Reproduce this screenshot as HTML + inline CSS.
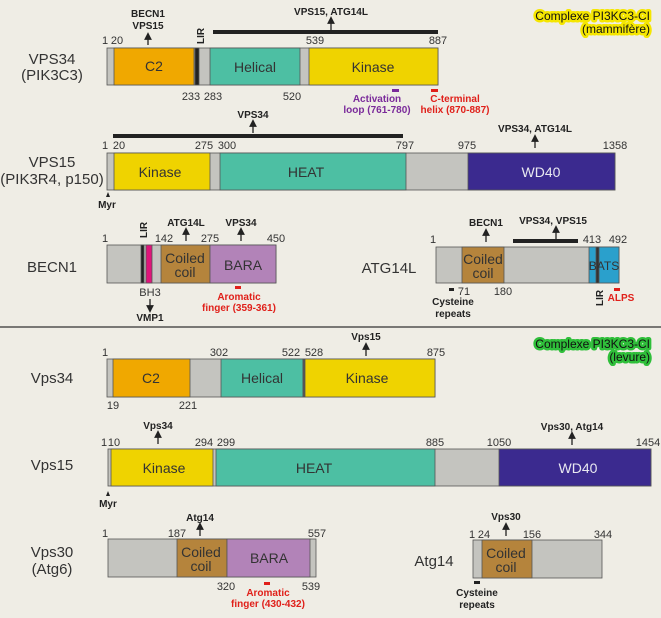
<!DOCTYPE html>
<html><head><meta charset="utf-8"><style>
html,body{margin:0;padding:0;background:#efede5}
svg{display:block}
text{font-family:"Liberation Sans Narrow","Liberation Sans",sans-serif}
.n{font-size:11px;fill:#333;text-anchor:middle}
.b{font-size:10px;font-weight:bold;fill:#222;text-anchor:middle}
.r{font-size:10px;font-weight:bold;fill:#e0201a;text-anchor:middle}
.p{font-size:10px;font-weight:bold;fill:#7a2a9a;text-anchor:middle}
.L{font-family:"Liberation Sans",sans-serif;font-size:15px;fill:#333;text-anchor:middle}
.dw{font-family:"Liberation Sans",sans-serif;font-size:14px;fill:#e8e8f0;text-anchor:middle}
.dk{font-family:"Liberation Sans",sans-serif;font-size:14px;fill:#333;text-anchor:middle}
.t{font-family:"Liberation Sans",sans-serif;font-size:12px;text-anchor:end;fill:#111;stroke-width:5px;paint-order:stroke;stroke-linejoin:round}
rect{stroke:#555;stroke-width:0.8}
</style></head><body>
<svg width="661" height="618" viewBox="0 0 661 618" xmlns="http://www.w3.org/2000/svg">
<defs><marker id="a" markerWidth="6" markerHeight="6" refX="3" refY="3" orient="auto"><path d="M0,0 L6,3 L0,6 Z" fill="#222"/></marker></defs>
<rect x="0" y="0" width="661" height="618" fill="#efede5" style="stroke:none"/>
<line x1="0" y1="327" x2="661" y2="327" stroke="#333" stroke-width="1.2"/>

<!-- titles -->
<text class="t" x="650" y="20" stroke="#f5e600">Complexe PI3KC3-CI</text>
<text class="t" x="650" y="33" stroke="#f5e600">(mammifère)</text>
<text class="t" x="650" y="348" stroke="#2fbf3a">Complexe PI3KC3-CI</text>
<text class="t" x="650" y="361" stroke="#2fbf3a">(levure)</text>

<!-- VPS34 -->
<text class="L" x="52" y="64">VPS34</text><text class="L" x="52" y="80">(PIK3C3)</text>
<rect x="107" y="48" width="331" height="37" fill="#c4c4bf"/>
<rect x="114" y="48" width="80" height="37" fill="#f0a800"/>
<rect x="195" y="48" width="4" height="37" fill="#222"/>
<rect x="210" y="48" width="90" height="37" fill="#4dbfa3"/>
<rect x="309" y="48" width="129" height="37" fill="#efd300"/>
<text class="dk" x="154" y="71">C2</text><text class="dk" x="255" y="72">Helical</text><text class="dk" x="373" y="72">Kinase</text>
<text class="n" x="105" y="44">1</text><text class="n" x="117" y="44">20</text><text class="n" x="315" y="44">539</text><text class="n" x="438" y="44">887</text>
<text class="n" x="191" y="100">233</text><text class="n" x="213" y="100">283</text><text class="n" x="292" y="100">520</text>
<line x1="213" y1="32" x2="438" y2="32" stroke="#222" stroke-width="4"/>
<line x1="331" y1="30" x2="331" y2="20" stroke="#222" stroke-width="1.3" marker-end="url(#a)"/>
<text class="b" x="331" y="15">VPS15, ATG14L</text>
<text class="b" x="148" y="17">BECN1</text><text class="b" x="148" y="29">VPS15</text>
<line x1="148" y1="45" x2="148" y2="36" stroke="#222" stroke-width="1.3" marker-end="url(#a)"/>
<text class="b" transform="translate(204,44) rotate(-90)" style="text-anchor:start">LIR</text>
<rect x="392" y="89" width="7" height="3" fill="#7a2a9a" style="stroke:none"/>
<text class="p" x="377" y="102">Activation</text><text class="p" x="377" y="113">loop (761-780)</text>
<rect x="431" y="89" width="7" height="3" fill="#e0201a" style="stroke:none"/>
<text class="r" x="455" y="102">C-terminal</text><text class="r" x="455" y="113">helix (870-887)</text>

<!-- VPS15 -->
<text class="L" x="52" y="167">VPS15</text><text class="L" x="52" y="184">(PIK3R4, p150)</text>
<rect x="107" y="153" width="508" height="37" fill="#c4c4bf"/>
<rect x="114" y="153" width="96" height="37" fill="#efd300"/>
<rect x="220" y="153" width="186" height="37" fill="#4dbfa3"/>
<rect x="468" y="153" width="147" height="37" fill="#3b2a8f"/>
<text class="dk" x="160" y="177">Kinase</text><text class="dk" x="306" y="177">HEAT</text><text class="dw" x="541" y="177">WD40</text>
<text class="n" x="105" y="149">1</text><text class="n" x="119" y="149">20</text><text class="n" x="204" y="149">275</text><text class="n" x="227" y="149">300</text><text class="n" x="405" y="149">797</text><text class="n" x="467" y="149">975</text><text class="n" x="615" y="149">1358</text>
<line x1="113" y1="136" x2="403" y2="136" stroke="#222" stroke-width="4"/>
<text class="b" x="253" y="118">VPS34</text>
<line x1="253" y1="133" x2="253" y2="123" stroke="#222" stroke-width="1.3" marker-end="url(#a)"/>
<text class="b" x="535" y="132">VPS34, ATG14L</text>
<line x1="535" y1="148" x2="535" y2="138" stroke="#222" stroke-width="1.3" marker-end="url(#a)"/>
<path d="M106,197 L108,192 L110,197 Z" fill="#222"/>
<text class="b" x="107" y="208">Myr</text>

<!-- BECN1 -->
<text class="L" x="52" y="272">BECN1</text>
<rect x="107" y="245" width="169" height="38" fill="#c4c4bf"/>
<rect x="141" y="245" width="3" height="38" fill="#222"/>
<rect x="146" y="245" width="6" height="38" fill="#e0157a"/>
<rect x="161" y="245" width="49" height="38" fill="#b5843c"/>
<rect x="210" y="245" width="66" height="38" fill="#b283b8"/>
<text class="dk" x="185" y="263">Coiled</text><text class="dk" x="185" y="277">coil</text><text class="dk" x="243" y="270">BARA</text>
<text class="n" x="105" y="242">1</text><text class="n" x="164" y="242">142</text><text class="n" x="210" y="242">275</text><text class="n" x="276" y="242">450</text>
<text class="b" transform="translate(147,238) rotate(-90)" style="text-anchor:start">LIR</text>
<text class="b" x="186" y="226">ATG14L</text>
<line x1="186" y1="241" x2="186" y2="231" stroke="#222" stroke-width="1.3" marker-end="url(#a)"/>
<text class="b" x="241" y="226">VPS34</text>
<line x1="241" y1="241" x2="241" y2="231" stroke="#222" stroke-width="1.3" marker-end="url(#a)"/>
<text class="n" x="150" y="296">BH3</text>
<line x1="150" y1="299" x2="150" y2="309" stroke="#222" stroke-width="1.3" marker-end="url(#a)"/>
<text class="b" x="150" y="321">VMP1</text>
<rect x="235" y="286" width="6" height="3" fill="#e0201a" style="stroke:none"/>
<text class="r" x="239" y="300">Aromatic</text><text class="r" x="239" y="311">finger (359-361)</text>

<!-- ATG14L -->
<text class="L" x="389" y="273">ATG14L</text>
<rect x="436" y="247" width="183" height="36" fill="#c4c4bf"/>
<rect x="462" y="247" width="42" height="36" fill="#b5843c"/>
<rect x="589" y="247" width="30" height="36" fill="#2aa0cc"/>
<rect x="596" y="247" width="3" height="36" fill="#333"/>
<text class="dk" x="483" y="264">Coiled</text><text class="dk" x="483" y="278">coil</text><text class="dk" x="604" y="270" style="font-size:12px">BATS</text>
<text class="n" x="433" y="243">1</text><text class="n" x="592" y="243">413</text><text class="n" x="618" y="243">492</text>
<rect x="449" y="288" width="5" height="3" fill="#222" style="stroke:none"/>
<text class="n" x="464" y="295">71</text><text class="n" x="503" y="295">180</text>
<text class="b" x="453" y="305">Cysteine</text><text class="b" x="453" y="317">repeats</text>
<text class="b" transform="translate(603,306) rotate(-90)" style="text-anchor:start">LIR</text>
<rect x="614" y="288" width="6" height="3" fill="#e0201a" style="stroke:none"/>
<text class="r" x="621" y="301">ALPS</text>
<text class="b" x="486" y="226">BECN1</text>
<line x1="486" y1="242" x2="486" y2="232" stroke="#222" stroke-width="1.3" marker-end="url(#a)"/>
<line x1="513" y1="241" x2="578" y2="241" stroke="#222" stroke-width="4"/>
<text class="b" x="553" y="224">VPS34, VPS15</text>
<line x1="556" y1="239" x2="556" y2="229" stroke="#222" stroke-width="1.3" marker-end="url(#a)"/>

<!-- Yeast Vps34 -->
<text class="L" x="52" y="383">Vps34</text>
<rect x="107" y="359" width="328" height="38" fill="#c4c4bf"/>
<rect x="113" y="359" width="77" height="38" fill="#f0a800"/>
<rect x="221" y="359" width="82" height="38" fill="#4dbfa3"/>
<rect x="303" y="359" width="2" height="38" fill="#555"/>
<rect x="305" y="359" width="130" height="38" fill="#efd300"/>
<text class="dk" x="151" y="383">C2</text><text class="dk" x="262" y="383">Helical</text><text class="dk" x="367" y="383">Kinase</text>
<text class="n" x="105" y="356">1</text><text class="n" x="219" y="356">302</text><text class="n" x="291" y="356">522</text><text class="n" x="314" y="356">528</text><text class="n" x="436" y="356">875</text>
<text class="n" x="113" y="409">19</text><text class="n" x="188" y="409">221</text>
<text class="b" x="366" y="340">Vps15</text>
<line x1="366" y1="356" x2="366" y2="346" stroke="#222" stroke-width="1.3" marker-end="url(#a)"/>

<!-- Yeast Vps15 -->
<text class="L" x="52" y="470">Vps15</text>
<rect x="108" y="449" width="543" height="37" fill="#c4c4bf"/>
<rect x="111" y="449" width="102" height="37" fill="#efd300"/>
<rect x="216" y="449" width="219" height="37" fill="#4dbfa3"/>
<rect x="499" y="449" width="152" height="37" fill="#3b2a8f"/>
<text class="dk" x="164" y="473">Kinase</text><text class="dk" x="314" y="473">HEAT</text><text class="dw" x="578" y="473">WD40</text>
<text class="n" x="104" y="446">1</text><text class="n" x="114" y="446">10</text><text class="n" x="204" y="446">294</text><text class="n" x="226" y="446">299</text><text class="n" x="435" y="446">885</text><text class="n" x="499" y="446">1050</text><text class="n" x="648" y="446">1454</text>
<text class="b" x="158" y="429">Vps34</text>
<line x1="158" y1="444" x2="158" y2="434" stroke="#222" stroke-width="1.3" marker-end="url(#a)"/>
<text class="b" x="572" y="430">Vps30, Atg14</text>
<line x1="572" y1="445" x2="572" y2="435" stroke="#222" stroke-width="1.3" marker-end="url(#a)"/>
<path d="M106,496 L108,491 L110,496 Z" fill="#222"/>
<text class="b" x="108" y="507">Myr</text>

<!-- Vps30 -->
<text class="L" x="52" y="557">Vps30</text><text class="L" x="52" y="574">(Atg6)</text>
<rect x="108" y="539" width="208" height="38" fill="#c4c4bf"/>
<rect x="177" y="539" width="50" height="38" fill="#b5843c"/>
<rect x="227" y="539" width="83" height="38" fill="#b283b8"/>
<text class="dk" x="201" y="557">Coiled</text><text class="dk" x="201" y="571">coil</text><text class="dk" x="269" y="563">BARA</text>
<text class="n" x="105" y="537">1</text><text class="n" x="177" y="537">187</text><text class="n" x="317" y="537">557</text>
<text class="n" x="226" y="590">320</text><text class="n" x="311" y="590">539</text>
<text class="b" x="200" y="521">Atg14</text>
<line x1="200" y1="536" x2="200" y2="526" stroke="#222" stroke-width="1.3" marker-end="url(#a)"/>
<rect x="264" y="582" width="6" height="3" fill="#e0201a" style="stroke:none"/>
<text class="r" x="268" y="596">Aromatic</text><text class="r" x="268" y="607">finger (430-432)</text>

<!-- Atg14 -->
<text class="L" x="434" y="566">Atg14</text>
<rect x="473" y="540" width="129" height="38" fill="#c4c4bf"/>
<rect x="482" y="540" width="50" height="38" fill="#b5843c"/>
<text class="dk" x="506" y="558">Coiled</text><text class="dk" x="506" y="572">coil</text>
<text class="n" x="472" y="538">1</text><text class="n" x="484" y="538">24</text><text class="n" x="532" y="538">156</text><text class="n" x="603" y="538">344</text>
<text class="b" x="506" y="520">Vps30</text>
<line x1="506" y1="536" x2="506" y2="526" stroke="#222" stroke-width="1.3" marker-end="url(#a)"/>
<rect x="474" y="581" width="6" height="3" fill="#222" style="stroke:none"/>
<text class="b" x="477" y="596">Cysteine</text><text class="b" x="477" y="608">repeats</text>
</svg>
</body></html>
